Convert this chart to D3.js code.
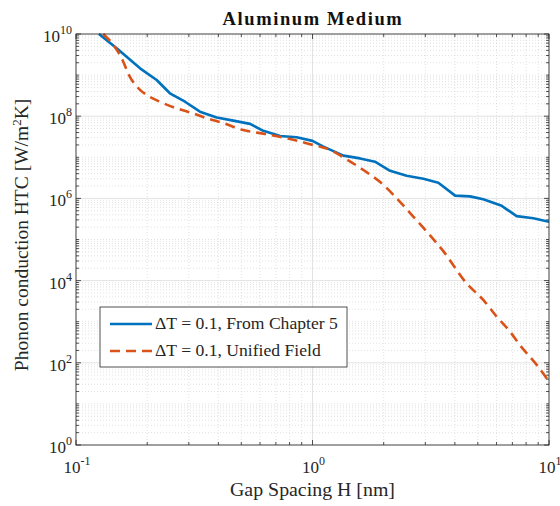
<!DOCTYPE html>
<html><head><meta charset="utf-8">
<script src="https://cdn.jsdelivr.net/npm/d3@7"></script>
<style>body{margin:0;background:#fff}svg{display:block}</style>
</head><body><div id="c"></div>
<script>
const title = "Aluminum Medium";
const xLabel = "Gap Spacing H [nm]";
const seriesNames = ["\u0394T = 0.1, From Chapter 5", "\u0394T = 0.1, Unified Field"];
const xTickExps = [-1, 0, 1];
const yTickExps = [0, 2, 4, 6, 8, 10];

const blueX = [0.125,0.1486,0.1866,0.2193,0.2495,0.2891,0.3342,0.3936,0.4624,0.5445,0.6194,0.7295,0.857,1.0,1.112,1.352,1.589,1.837,2.128,2.500,2.944,3.404,4.009,4.634,5.272,6.310,7.295,8.590,10];
const blueY = [1e10,4.49e9,1.46e9,7.6e8,3.61e8,2.25e8,1.29e8,9.3e7,7.8e7,6.5e7,4.4e7,3.3e7,3.07e7,2.51e7,1.82e7,1.10e7,9.4e6,7.8e6,4.7e6,3.55e6,3.0e6,2.4e6,1.17e6,1.12e6,9.5e5,6.6e5,3.7e5,3.3e5,2.7e5];
const redX = [0.1303,0.1439,0.156,0.169,0.1866,0.199,0.2265,0.2667,0.3133,0.3573,0.4198,0.5093,0.6295,0.7780,0.975,1.186,1.396,1.641,1.995,2.307,2.710,3.090,3.573,4.487,5.272,6.012,6.839,7.534,8.872,10];
const redY = [1e10,5.4e9,2.57e9,9.1e8,4.37e8,3.28e8,2.24e8,1.55e8,1.17e8,8.9e7,6.8e7,4.6e7,3.7e7,2.9e7,2.09e7,1.51e7,8.9e6,4.9e6,2.14e6,9.1e5,3.27e5,1.41e5,5.2e4,8.5e3,3.4e3,1.32e3,575,269,89,35];

const W = 560, H = 506;
const m = {l: 76, r: 11, t: 34, b: 61};
const font = "'Liberation Serif', 'DejaVu Serif', serif";
const txt = "#262626";

const svg = d3.select("#c").append("svg").attr("width", W).attr("height", H)
  .style("font-family", font);

const x = d3.scaleLog().domain([0.1, 10]).range([m.l, W - m.r]);
const y = d3.scaleLog().domain([1, 1e10]).range([H - m.b, m.t]);

function fit(sel, target) {
  const fs = +sel.attr("font-size");
  const w = sel.node().getComputedTextLength();
  if (w > 0) sel.attr("font-size", (fs * target / w).toFixed(2));
  return sel;
}

const xMinor = [], yMinor = [];
for (let e = -1; e < 1; e++) for (let k = 2; k <= 9; k++) xMinor.push(k * Math.pow(10, e));
for (let e = 0; e < 10; e++) for (let k = 1; k <= 9; k++) if (!(k === 1 && e % 2 === 0)) yMinor.push(k * Math.pow(10, e));

const g = svg.append("g");
g.selectAll(".gxm").data(xMinor).enter().append("line")
  .attr("x1", d => x(d)).attr("x2", d => x(d)).attr("y1", m.t).attr("y2", H - m.b)
  .attr("stroke", "#cfcfcf").attr("stroke-width", 0.6).attr("stroke-dasharray", "1,2");
g.selectAll(".gym").data(yMinor).enter().append("line")
  .attr("y1", d => y(d)).attr("y2", d => y(d)).attr("x1", m.l).attr("x2", W - m.r)
  .attr("stroke", "#cfcfcf").attr("stroke-width", 0.6).attr("stroke-dasharray", "1,2");
g.selectAll(".gx").data(xTickExps).enter().append("line")
  .attr("x1", d => x(Math.pow(10, d))).attr("x2", d => x(Math.pow(10, d))).attr("y1", m.t).attr("y2", H - m.b)
  .attr("stroke", "#e3e3e3").attr("stroke-width", 1);
g.selectAll(".gy").data(yTickExps).enter().append("line")
  .attr("y1", d => y(Math.pow(10, d))).attr("y2", d => y(Math.pow(10, d))).attr("x1", m.l).attr("x2", W - m.r)
  .attr("stroke", "#e3e3e3").attr("stroke-width", 1);

const tk = svg.append("g").attr("stroke", txt).attr("stroke-width", 0.8);
xMinor.forEach(v => {
  tk.append("line").attr("x1", x(v)).attr("x2", x(v)).attr("y1", H - m.b).attr("y2", H - m.b - 3);
  tk.append("line").attr("x1", x(v)).attr("x2", x(v)).attr("y1", m.t).attr("y2", m.t + 3);
});
xTickExps.forEach(e => { const v = Math.pow(10, e);
  tk.append("line").attr("x1", x(v)).attr("x2", x(v)).attr("y1", H - m.b).attr("y2", H - m.b - 5);
  tk.append("line").attr("x1", x(v)).attr("x2", x(v)).attr("y1", m.t).attr("y2", m.t + 5);
});
yMinor.forEach(v => {
  tk.append("line").attr("y1", y(v)).attr("y2", y(v)).attr("x1", m.l).attr("x2", m.l + 3);
  tk.append("line").attr("y1", y(v)).attr("y2", y(v)).attr("x1", W - m.r).attr("x2", W - m.r - 3);
});
yTickExps.forEach(e => { const v = Math.pow(10, e);
  tk.append("line").attr("y1", y(v)).attr("y2", y(v)).attr("x1", m.l).attr("x2", m.l + 5);
  tk.append("line").attr("y1", y(v)).attr("y2", y(v)).attr("x1", W - m.r).attr("x2", W - m.r - 5);
});

svg.append("clipPath").attr("id", "cp").append("rect")
  .attr("x", m.l).attr("y", m.t - 2).attr("width", W - m.l - m.r).attr("height", H - m.t - m.b + 2);
const line = d3.line().x(d => x(d[0])).y(d => y(d[1]));
svg.append("path").datum(blueX.map((v, i) => [v, blueY[i]]))
  .attr("d", line).attr("fill", "none").attr("stroke", "#0072BD").attr("stroke-width", 2.6)
  .attr("stroke-linejoin", "round").attr("clip-path", "url(#cp)");
svg.append("path").datum(redX.map((v, i) => [v, redY[i]]))
  .attr("d", line.curve(d3.curveMonotoneX)).attr("fill", "none").attr("stroke", "#D95319").attr("stroke-width", 2.6)
  .attr("stroke-dasharray", "10,6").attr("clip-path", "url(#cp)");

svg.append("rect").attr("x", m.l).attr("y", m.t).attr("width", W - m.l - m.r).attr("height", H - m.t - m.b)
  .attr("fill", "none").attr("stroke", txt).attr("stroke-width", 0.8);

function pow10(sel, e) {
  sel.append("tspan").text("10");
  sel.append("tspan").attr("dy", -8).attr("font-size", 12).text(e);
}
xTickExps.forEach(e => {
  const t = svg.append("text").attr("x", x(Math.pow(10, e)) + 1).attr("y", H - m.b + 28)
    .attr("text-anchor", "middle").attr("font-size", 17).attr("fill", txt);
  pow10(t, e);
});
yTickExps.forEach(e => {
  const t = svg.append("text").attr("x", m.l - 4).attr("y", y(Math.pow(10, e)) + 8)
    .attr("text-anchor", "end").attr("font-size", 17).attr("fill", txt);
  pow10(t, e);
});

fit(svg.append("text").attr("x", 312.5).attr("y", 496).attr("text-anchor", "middle")
  .attr("font-size", 19).attr("fill", txt).text(xLabel), 165);
const yl = svg.append("text").attr("transform", `translate(28,235) rotate(-90)`)
  .attr("text-anchor", "middle").attr("font-size", 19.5).attr("fill", txt);
yl.append("tspan").text("Phonon conduction HTC [W/m");
yl.append("tspan").attr("dy", -7).attr("font-size", 13).text("2");
yl.append("tspan").attr("dy", 7).text("K]");

svg.append("text").attr("x", 313).attr("y", 25).attr("text-anchor", "middle")
  .attr("font-size", 18.5).attr("font-weight", "bold").attr("fill", "#111").attr("letter-spacing", 1.6).text(title);

const lg = svg.append("g");
lg.append("rect").attr("x", 100).attr("y", 307).attr("width", 247).attr("height", 60)
  .attr("fill", "#fff").attr("stroke", txt).attr("stroke-width", 0.8);
const colors = ["#0072BD", "#D95319"], dashes = [null, "10,6"];
seriesNames.forEach((n, i) => {
  const yy = 324 + i * 27;
  lg.append("line").attr("x1", 110).attr("x2", 152).attr("y1", yy).attr("y2", yy)
    .attr("stroke", colors[i]).attr("stroke-width", 2.6).attr("stroke-dasharray", dashes[i]);
  const t = lg.append("text").attr("x", 155).attr("y", yy + 5).attr("font-size", 16).attr("fill", txt).text(n);
  if (i === 0) fit(t, 183);
  else t.attr("font-size", lg.select("text").attr("font-size"));
});
</script></body></html>
